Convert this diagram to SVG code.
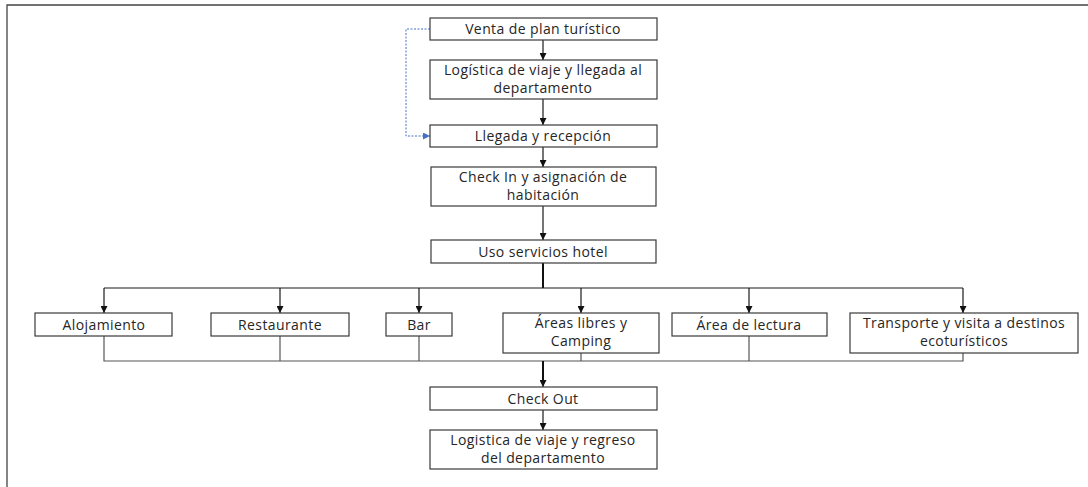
<svg xmlns="http://www.w3.org/2000/svg" width="1088" height="487" viewBox="0 0 1088 487">
  <defs>
    <marker id="arrow" viewBox="0 0 10 10" refX="10" refY="5" markerWidth="7" markerHeight="7" markerUnits="userSpaceOnUse" orient="auto">
      <path d="M0,0 L10,5 L0,10 z" fill="#111"/>
    </marker>
    <marker id="arrowBlue" viewBox="0 0 10 10" refX="10" refY="5" markerWidth="7" markerHeight="7" markerUnits="userSpaceOnUse" orient="auto">
      <path d="M0,0 L10,5 L0,10 z" fill="#4472c4"/>
    </marker>
    <style>
      .box { fill: #ffffff; stroke: #3a3a3a; stroke-width: 1.2; }
      .lbl { font-family: "Open Sans", "Liberation Sans", Arial, sans-serif; font-size: 14px; letter-spacing: 0.4px; fill: #262626; text-anchor: middle; }
      .line { fill: none; stroke: #1a1a1a; stroke-width: 1.2; }
      .join { fill: none; stroke: #555; stroke-width: 1.2; }
      .trunk { fill: none; stroke: #111; stroke-width: 2; }
      .dash { fill: none; stroke: #4472c4; stroke-width: 1; stroke-dasharray: 2 1.5; }
      .frame { fill: none; stroke: #444; stroke-width: 1.3; }
    </style>
  </defs>

  <rect width="1088" height="487" fill="#ffffff"/>

  <!-- page frame -->
  <path class="frame" d="M7,487 V5 H1088"/>

  <!-- connectors -->
  <g id="connectors">
    <path class="line" d="M543,39 V60" marker-end="url(#arrow)"/>
    <path class="line" d="M543,99 V125" marker-end="url(#arrow)"/>
    <path class="line" d="M543,147 V167" marker-end="url(#arrow)"/>
    <path class="line" d="M543,206 V240" marker-end="url(#arrow)"/>
    <path class="dash" d="M430,29 H406 V136 H430" marker-end="url(#arrowBlue)"/>

    <!-- branch out of "Uso servicios hotel" -->
    <path class="trunk" d="M543,263 V288"/>
    <path class="line" d="M104,288 H963"/>
    <path class="line" d="M104,288 V313" marker-end="url(#arrow)"/>
    <path class="line" d="M280,288 V313" marker-end="url(#arrow)"/>
    <path class="line" d="M419,288 V313" marker-end="url(#arrow)"/>
    <path class="line" d="M581,288 V313" marker-end="url(#arrow)"/>
    <path class="line" d="M749,288 V313" marker-end="url(#arrow)"/>
    <path class="line" d="M963,288 V313" marker-end="url(#arrow)"/>

    <!-- merge into "Check Out" -->
    <path class="join" d="M104,336 V361 H963 V353"/>
    <path class="join" d="M280,336 V361"/>
    <path class="join" d="M419,336 V361"/>
    <path class="join" d="M581,353 V361"/>
    <path class="join" d="M749,336 V361"/>
    <path class="trunk" d="M543,361 V380"/>
    <path class="line" d="M543,379 V387" marker-end="url(#arrow)"/>
    <path class="line" d="M543,410 V430" marker-end="url(#arrow)"/>
  </g>

  <g id="venta">
    <rect class="box" x="430" y="18" width="227" height="22"/>
    <text class="lbl" x="543" y="34">Venta de plan turístico</text>
  </g>
  <g id="logistica-llegada">
    <rect class="box" x="430" y="60" width="227" height="39"/>
    <text class="lbl" x="543" y="75">Logística de viaje y llegada al</text>
    <text class="lbl" x="543" y="93">departamento</text>
  </g>
  <g id="llegada">
    <rect class="box" x="430" y="125" width="227" height="22"/>
    <text class="lbl" x="543" y="141">Llegada y recepción</text>
  </g>
  <g id="checkin">
    <rect class="box" x="431" y="167" width="225" height="39"/>
    <text class="lbl" x="543" y="182">Check In y asignación de</text>
    <text class="lbl" x="543" y="200">habitación</text>
  </g>
  <g id="uso-servicios">
    <rect class="box" x="431" y="240" width="225" height="23"/>
    <text class="lbl" x="543" y="256.5">Uso servicios hotel</text>
  </g>

  <g id="alojamiento">
    <rect class="box" x="35" y="313" width="137" height="23"/>
    <text class="lbl" x="104" y="329.5">Alojamiento</text>
  </g>
  <g id="restaurante">
    <rect class="box" x="211" y="313" width="138" height="23"/>
    <text class="lbl" x="280" y="329.5">Restaurante</text>
  </g>
  <g id="bar">
    <rect class="box" x="386" y="313" width="66" height="23"/>
    <text class="lbl" x="419" y="329.5">Bar</text>
  </g>
  <g id="areas-libres">
    <rect class="box" x="503" y="313" width="156" height="40"/>
    <text class="lbl" x="581" y="328">Áreas libres y</text>
    <text class="lbl" x="581" y="346">Camping</text>
  </g>
  <g id="area-lectura">
    <rect class="box" x="672" y="313" width="155" height="23"/>
    <text class="lbl" x="749" y="329.5">Área de lectura</text>
  </g>
  <g id="transporte">
    <rect class="box" x="850" y="313" width="228" height="40"/>
    <text class="lbl" x="964" y="328">Transporte y visita a destinos</text>
    <text class="lbl" x="964" y="346">ecoturísticos</text>
  </g>

  <g id="checkout">
    <rect class="box" x="430" y="387" width="227" height="23"/>
    <text class="lbl" x="543" y="403.5">Check Out</text>
  </g>
  <g id="logistica-regreso">
    <rect class="box" x="430" y="430" width="227" height="39"/>
    <text class="lbl" x="543" y="445">Logistica de viaje y regreso</text>
    <text class="lbl" x="543" y="463">del departamento</text>
  </g>
</svg>
